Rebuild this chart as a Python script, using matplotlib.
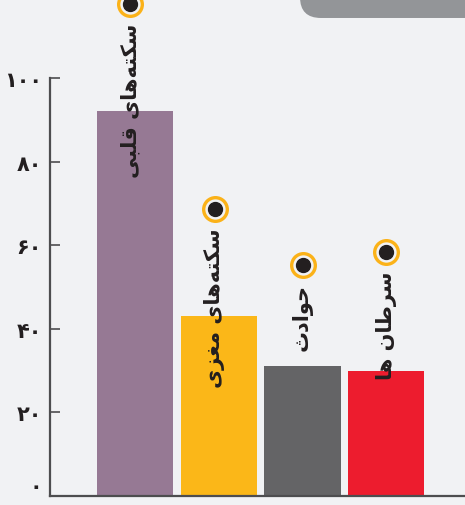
import matplotlib.pyplot as plt
from matplotlib.patches import FancyBboxPatch

# داده‌ها
categories = ["سکته‌های قلبی", "سکته‌های مغزی", "حوادث", "سرطان ها"]
values = [92.0, 43.0, 31.0, 30.0]
marker_y = [117.7, 68.7, 55.3, 58.4]
bar_colors = ["#967994", "#fbb718", "#646466", "#ed1c2e"]
yticks = [0, 20, 40, 60, 80, 100]
ytick_labels = ["۰", "۲۰", "۴۰", "۶۰", "۸۰", "۱۰۰"]

# presentation forms: (isolated, final, initial, medial); None => joins only to the right
FORMS = {
    "س": ("\ufeb1", "\ufeb2", "\ufeb3", "\ufeb4"),
    "ک": ("\ufb8e", "\ufb8f", "\ufb90", "\ufb91"),
    "ت": ("\ufe95", "\ufe96", "\ufe97", "\ufe98"),
    "ه": ("\ufee9", "\ufeea", "\ufeeb", "\ufeec"),
    "ی": ("\ufbfc", "\ufbfd", "\ufbfe", "\ufbff"),
    "ق": ("\ufed5", "\ufed6", "\ufed7", "\ufed8"),
    "ل": ("\ufedd", "\ufede", "\ufedf", "\ufee0"),
    "ب": ("\ufe8f", "\ufe90", "\ufe91", "\ufe92"),
    "م": ("\ufee1", "\ufee2", "\ufee3", "\ufee4"),
    "غ": ("\ufecd", "\ufece", "\ufecf", "\ufed0"),
    "ح": ("\ufea1", "\ufea2", "\ufea3", "\ufea4"),
    "ث": ("\ufe99", "\ufe9a", "\ufe9b", "\ufe9c"),
    "ط": ("\ufec1", "\ufec2", "\ufec3", "\ufec4"),
    "ن": ("\ufee5", "\ufee6", "\ufee7", "\ufee8"),
    "ا": ("\ufe8d", "\ufe8e", None, None),
    "ز": ("\ufeaf", "\ufeb0", None, None),
    "و": ("\ufeed", "\ufeee", None, None),
    "د": ("\ufea9", "\ufeaa", None, None),
    "ر": ("\ufead", "\ufeae", None, None),
}


def shape(text):
    """Simple Persian shaping, returns visual (left-to-right) order."""
    out = []
    chars = list(text)
    for i, c in enumerate(chars):
        if c not in FORMS:
            if c != "\u200c":
                out.append(c)
            continue
        prev = chars[i - 1] if i > 0 else None
        nxt = chars[i + 1] if i + 1 < len(chars) else None
        join_prev = prev in FORMS and FORMS[prev][2] is not None
        join_next = nxt in FORMS and FORMS[c][2] is not None
        iso, fin, ini, med = FORMS[c]
        if join_prev and join_next:
            out.append(med)
        elif join_prev:
            out.append(fin)
        elif join_next:
            out.append(ini)
        else:
            out.append(iso)
    return "".join(out[::-1])


bg = "#f1f2f4"
fig = plt.figure(figsize=(4.65, 5.06), dpi=100, facecolor=bg)
ax = fig.add_axes([50 / 465, 9 / 506, 415 / 465, 497 / 506])
ax.set_facecolor(bg)

x = list(range(len(values)))
ax.bar(x, values, width=0.91, color=bar_colors, zorder=2)

offsets = [-0.06, -0.05, 0.0, 0.0]
for i, (lab, my) in enumerate(zip(categories, marker_y)):
    xi = i + offsets[i]
    ax.scatter(xi, my, s=290, facecolor=bg, edgecolor="#fbb218", linewidth=2.4, zorder=4, clip_on=False)
    ax.scatter(xi, my, s=100, color="#231f20", zorder=5, clip_on=False)
    ax.text(xi, my - 4.4, shape(lab), rotation=90, ha="center", va="top",
            fontsize=15, fontweight="bold", color="#231f20", family="DejaVu Sans", zorder=6)

ax.set_xlim(-1.016, 3.94)
ax.set_ylim(0, 118.9)

ax.spines["top"].set_visible(False)
ax.spines["right"].set_visible(False)
ax.spines["left"].set_bounds(0, 100)
ax.spines["left"].set_color("#4d4d4f")
ax.spines["left"].set_linewidth(1.6)
ax.spines["bottom"].set_color("#4d4d4f")
ax.spines["bottom"].set_linewidth(1.6)

ax.set_xticks([])
ax.set_yticks(yticks)
ax.set_yticklabels(ytick_labels, fontsize=15, fontweight="bold", color="#231f20")
ax.tick_params(axis="y", direction="in", length=7.5, width=1.2, color="#4d4d4f", pad=6)
for t in ax.get_yticklabels():
    t.set_va("center_baseline")
# keep the zero label inside the figure
ax.get_yticklabels()[0].set_va("bottom")

# gray tab at the top right
tab = FancyBboxPatch((300 / 465, 1.0 - 20 / 506 + 0.002), 0.5, 0.1,
                     boxstyle="round,pad=0,rounding_size=0.045",
                     transform=fig.transFigure, facecolor="#939598", edgecolor="none",
                     mutation_aspect=465 / 506)
fig.patches.append(tab)

fig.savefig("out.png", dpi=100, facecolor=bg)
